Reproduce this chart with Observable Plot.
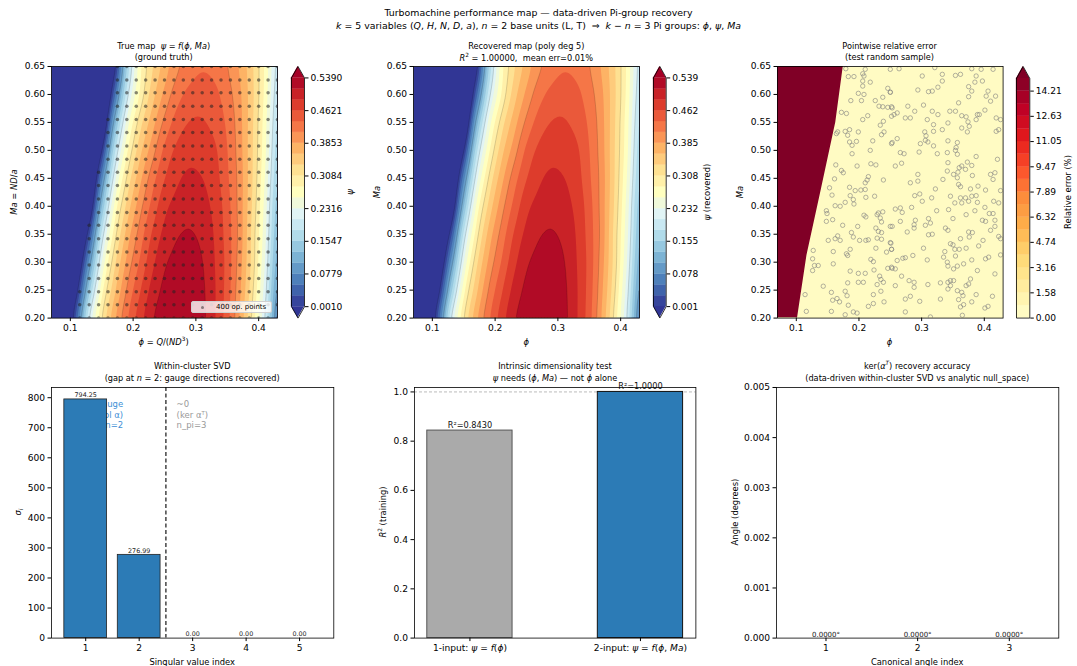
<!DOCTYPE html>
<html><head><meta charset="utf-8">
<script src="https://cdn.jsdelivr.net/npm/d3@7"></script>
<script src="https://cdn.jsdelivr.net/npm/@observablehq/plot@0.6"></script>
<style>
body{margin:0;background:#fff;}
#fig{position:relative;width:1077px;height:666px;overflow:hidden;font-family:"DejaVu Sans",sans-serif;color:#000;background:#fff;}
.t{position:absolute;white-space:nowrap;line-height:1.25;}
.t sub,.t sup{font-size:70%;line-height:0;}
#fig svg{position:absolute;overflow:visible;}
</style></head><body><div id="fig"></div>
<script>
// ---------------- DATA ----------------
const phiCols = [0.07,0.09,0.11,0.13,0.15,0.17,0.19,0.21,0.23,0.25,0.27,0.29,0.31,0.33,0.35,0.37,0.39,0.41,0.43];
const maRows  = [0.20,0.25,0.30,0.35,0.40,0.45,0.50,0.55,0.60,0.65];
// psi, one row per Ma value (values below 0.001 = dark-blue "under" region)
const psi_020 = [-0.20,-0.10,0.040,0.201,0.305,0.377,0.431,0.474,0.509,0.528,0.538,0.534,0.520,0.490,0.447,0.383,0.302,0.205,0.081];
const psi_025 = [-0.22,-0.12,-0.012,0.145,0.272,0.352,0.413,0.458,0.496,0.520,0.531,0.529,0.518,0.490,0.450,0.390,0.314,0.218,0.100];
const psi_030 = [-0.25,-0.15,-0.060,0.084,0.231,0.325,0.391,0.438,0.480,0.509,0.521,0.523,0.514,0.488,0.452,0.396,0.323,0.231,0.118];
const psi_035 = [-0.28,-0.19,-0.100,0.021,0.186,0.294,0.369,0.420,0.464,0.495,0.511,0.515,0.507,0.485,0.450,0.400,0.325,0.240,0.132];
const psi_040 = [-0.32,-0.23,-0.140,-0.045,0.127,0.260,0.341,0.399,0.444,0.480,0.497,0.505,0.497,0.480,0.447,0.399,0.331,0.247,0.144];
const psi_045 = [-0.36,-0.27,-0.180,-0.090,0.068,0.217,0.311,0.375,0.424,0.461,0.483,0.493,0.488,0.473,0.441,0.399,0.335,0.256,0.158];
const psi_050 = [-0.40,-0.31,-0.220,-0.130,-0.003,0.168,0.276,0.348,0.398,0.442,0.468,0.478,0.475,0.466,0.437,0.396,0.336,0.264,0.168];
const psi_055 = [-0.43,-0.35,-0.260,-0.170,-0.070,0.110,0.240,0.319,0.373,0.417,0.448,0.463,0.464,0.454,0.431,0.394,0.338,0.268,0.179];
const psi_060 = [-0.46,-0.38,-0.290,-0.200,-0.110,0.041,0.192,0.284,0.347,0.392,0.426,0.444,0.451,0.443,0.422,0.390,0.340,0.275,0.189];
const psi_065 = [-0.46,-0.37,-0.280,-0.190,-0.100,-0.012,0.155,0.270,0.330,0.372,0.406,0.425,0.434,0.429,0.412,0.382,0.338,0.278,0.197];
const psiRows = [psi_020,psi_025,psi_030,psi_035,psi_040,psi_045,psi_050,psi_055,psi_060,psi_065];

const psiTicks = [0.0010,0.0779,0.1547,0.2316,0.3084,0.3853,0.4621,0.5390];
const errTicks = [0.00,1.58,3.16,4.74,6.32,7.89,9.47,11.05,12.63,14.21];
const phiTicks = [0.1,0.2,0.3,0.4];
const maTicks  = [0.20,0.25,0.30,0.35,0.40,0.45,0.50,0.55,0.60,0.65];

// operating-point grid (400 valid points lie right of the psi>0 boundary)
const opPhi = [0.070,0.085,0.100,0.115,0.130,0.145,0.160,0.175,0.190,0.205,0.220,0.235,0.250,0.265,0.280,0.295,0.310,0.325,0.340,0.355,0.370,0.385,0.400,0.415,0.430];
const opMa  = [0.200,0.224,0.247,0.271,0.295,0.318,0.342,0.366,0.389,0.413,0.437,0.461,0.484,0.508,0.532,0.555,0.579,0.603,0.626,0.650];
const psiBoundary = [[0.20,0.105],[0.65,0.172]];   // [Ma, phi] where psi = 0

// high-error region boundary (right panel) [Ma, phi]
const errBoundary = [[0.20,0.102],[0.312,0.117],[0.43,0.140],[0.55,0.163],[0.65,0.175]];

// test random sample [phi, Ma]
const testPts = [
[0.179,0.646],[0.210,0.645],[0.206,0.637],[0.183,0.632],[0.192,0.632],[0.208,0.633],[0.206,0.624],[0.218,0.622],[0.206,0.615],[0.246,0.611],
[0.250,0.604],[0.199,0.602],[0.208,0.600],[0.187,0.589],[0.204,0.589],[0.226,0.589],[0.238,0.595],[0.232,0.579],[0.238,0.578],[0.246,0.577],
[0.252,0.578],[0.172,0.568],[0.180,0.566],[0.214,0.562],[0.206,0.555],[0.252,0.561],[0.239,0.552],[0.234,0.545],[0.166,0.533],[0.164,0.530],
[0.178,0.534],[0.185,0.537],[0.199,0.533],[0.182,0.527],[0.240,0.533],[0.236,0.528],[0.185,0.515],[0.196,0.516],[0.189,0.509],[0.222,0.517],
[0.252,0.512],[0.218,0.500],[0.189,0.494],[0.163,0.474],[0.197,0.472],[0.219,0.476],[0.227,0.474],[0.172,0.464],[0.175,0.460],[0.215,0.453],
[0.213,0.447],[0.210,0.442],[0.161,0.449],[0.239,0.447],[0.153,0.433],[0.185,0.434],[0.194,0.428],[0.203,0.429],[0.210,0.430],
[0.250,0.645],[0.264,0.646],[0.301,0.633],[0.321,0.648],[0.333,0.636],[0.354,0.634],[0.362,0.636],[0.380,0.646],[0.395,0.645],[0.414,0.645],
[0.387,0.633],[0.397,0.624],[0.385,0.622],[0.333,0.624],[0.326,0.613],[0.311,0.605],[0.317,0.606],[0.294,0.608],[0.375,0.614],[0.380,0.606],
[0.406,0.606],[0.403,0.597],[0.418,0.597],[0.410,0.588],[0.250,0.604],[0.375,0.596],[0.359,0.585],[0.303,0.581],[0.278,0.579],[0.289,0.570],
[0.253,0.576],[0.256,0.564],[0.261,0.567],[0.274,0.558],[0.282,0.558],[0.317,0.570],[0.326,0.564],[0.345,0.570],[0.354,0.570],[0.364,0.562],
[0.371,0.560],[0.389,0.564],[0.392,0.564],[0.401,0.572],[0.419,0.558],[0.426,0.555],[0.309,0.555],[0.319,0.546],[0.342,0.549],[0.374,0.551],
[0.376,0.543],[0.387,0.555],[0.364,0.540],[0.373,0.533],[0.419,0.534],[0.423,0.537],[0.333,0.537],[0.319,0.534],[0.305,0.533],[0.307,0.526],
[0.306,0.518],[0.310,0.515],[0.298,0.512],[0.253,0.514],[0.261,0.521],[0.319,0.508],[0.342,0.517],[0.357,0.514],[0.355,0.505],[0.354,0.500],
[0.266,0.496],[0.272,0.494],[0.296,0.497],[0.325,0.494],[0.341,0.496],[0.357,0.493],[0.387,0.489],[0.421,0.484],[0.258,0.472],[0.268,0.477],
[0.342,0.478],[0.360,0.469],[0.364,0.472],[0.373,0.479],[0.380,0.473],[0.370,0.466],[0.358,0.461],[0.351,0.457],[0.341,0.463],[0.357,0.451],
[0.381,0.455],[0.410,0.457],[0.417,0.460],[0.414,0.448],[0.294,0.457],[0.294,0.445],[0.334,0.448],[0.282,0.442],[0.322,0.431],[0.359,0.439],
[0.362,0.435],[0.378,0.431],[0.390,0.436],[0.402,0.429],
[0.157,0.420],[0.186,0.419],[0.211,0.416],[0.191,0.412],[0.192,0.404],[0.178,0.407],[0.225,0.418],[0.162,0.401],[0.170,0.400],[0.148,0.392],
[0.149,0.387],[0.148,0.373],[0.158,0.376],[0.208,0.384],[0.211,0.381],[0.229,0.385],[0.231,0.388],[0.238,0.390],[0.234,0.379],[0.236,0.372],
[0.174,0.366],[0.198,0.364],[0.227,0.361],[0.231,0.355],[0.236,0.353],[0.250,0.364],[0.188,0.353],[0.166,0.347],[0.162,0.342],[0.170,0.339],
[0.151,0.339],[0.191,0.345],[0.201,0.339],[0.211,0.339],[0.215,0.340],[0.229,0.343],[0.236,0.341],[0.251,0.334],[0.127,0.321],[0.159,0.319],
[0.180,0.315],[0.182,0.312],[0.186,0.323],[0.227,0.325],[0.244,0.318],[0.252,0.323],[0.126,0.306],[0.129,0.294],[0.126,0.285],[0.135,0.294],
[0.159,0.297],[0.219,0.305],[0.223,0.301],[0.246,0.289],[0.252,0.291],[0.186,0.284],[0.199,0.280],[0.210,0.280],[0.224,0.286],[0.233,0.275],
[0.235,0.269],[0.239,0.264],[0.229,0.260],[0.199,0.264],[0.207,0.264],[0.182,0.263],[0.143,0.257],[0.114,0.242],[0.156,0.246],[0.178,0.248],
[0.181,0.240],[0.223,0.242],[0.235,0.248],[0.158,0.232],[0.165,0.235],[0.169,0.229],[0.183,0.223],[0.215,0.221],[0.223,0.226],[0.240,0.229],
[0.116,0.212],[0.156,0.212],[0.178,0.206],[0.191,0.211],[0.197,0.209],
[0.289,0.419],[0.297,0.422],[0.346,0.418],[0.362,0.415],[0.370,0.415],[0.380,0.418],[0.387,0.419],[0.426,0.428],[0.301,0.409],[0.316,0.415],
[0.353,0.406],[0.364,0.406],[0.375,0.409],[0.389,0.407],[0.415,0.409],[0.423,0.406],[0.258,0.395],[0.266,0.397],[0.269,0.389],[0.284,0.398],
[0.324,0.392],[0.343,0.394],[0.371,0.385],[0.385,0.392],[0.401,0.398],[0.408,0.387],[0.414,0.387],[0.417,0.375],[0.402,0.373],[0.397,0.375],
[0.266,0.373],[0.290,0.375],[0.288,0.367],[0.311,0.378],[0.314,0.370],[0.306,0.366],[0.288,0.361],[0.277,0.354],[0.253,0.364],[0.311,0.349],
[0.317,0.350],[0.342,0.357],[0.338,0.361],[0.350,0.378],[0.375,0.354],[0.381,0.353],[0.376,0.345],[0.362,0.342],[0.398,0.339],[0.410,0.357],
[0.417,0.364],[0.423,0.346],[0.426,0.342],[0.250,0.335],[0.252,0.323],[0.303,0.325],[0.337,0.319],[0.346,0.333],[0.350,0.331],[0.353,0.323],
[0.360,0.323],[0.371,0.325],[0.391,0.329],[0.354,0.311],[0.335,0.309],[0.341,0.300],[0.342,0.293],[0.351,0.288],[0.357,0.293],[0.367,0.297],
[0.380,0.304],[0.402,0.306],[0.407,0.309],[0.426,0.313],[0.261,0.303],[0.270,0.307],[0.274,0.308],[0.286,0.312],[0.309,0.304],[0.253,0.289],
[0.258,0.288],[0.268,0.275],[0.280,0.267],[0.288,0.264],[0.288,0.255],[0.258,0.258],[0.310,0.260],[0.330,0.263],[0.342,0.264],[0.346,0.267],
[0.351,0.267],[0.346,0.258],[0.342,0.252],[0.357,0.249],[0.364,0.246],[0.366,0.240],[0.375,0.261],[0.378,0.270],[0.371,0.258],[0.389,0.285],
[0.417,0.279],[0.274,0.234],[0.282,0.239],[0.297,0.230],[0.330,0.234],[0.359,0.233],[0.362,0.220],[0.367,0.224],[0.387,0.242],[0.380,0.229],
[0.401,0.218],[0.406,0.221],[0.413,0.239],[0.274,0.211],[0.314,0.202],[0.365,0.205]
];

// bottom panels
const svIndex = [1,2,3,4,5];
const svValues = [794.25,276.99,0.00,0.00,0.00];
const svTicksY = [0,100,200,300,400,500,600,700,800];
const r2Models = ["1-input: ψ = f(ϕ)","2-input: ψ = f(ϕ, Ma)"];
const r2Values = [0.8430,1.0000];
const r2Ticks = [0.0,0.2,0.4,0.6,0.8,1.0];
const angIndex = [1,2,3];
const angValues = [0.0000,0.0000,0.0000];
const angTicks = [0.000,0.001,0.002,0.003,0.004,0.005];

// ---------------- COLOURS ----------------
const rdylbu = ["#313695","#4575b4","#74add1","#abd9e9","#e0f3f8","#ffffbf","#fee090","#fdae61","#f46d43","#d73027","#a50026"];
const ylorrd = ["#ffffcc","#ffeda0","#fed976","#feb24c","#fd8d3c","#fc4e2a","#e31a1c","#bd0026","#800026"];
const cmapPsi = d3.piecewise(d3.interpolateRgb, rdylbu);
const cmapErr = d3.piecewise(d3.interpolateRgb, ylorrd);
const psiLevels = d3.range(22).map(i => 0.001 + i * (0.539 - 0.001) / 21);
const psiBands = d3.range(21).map(i => cmapPsi((i + 0.5) / 21));
const psiUnder = cmapPsi(0), psiOver = cmapPsi(1);
const errLevels = d3.range(20).map(i => i * 15 / 19);
const errBands = d3.range(19).map(i => cmapErr((i + 0.5) / 19));
const errOver = cmapErr(1);
const lineLevels = psiLevels.filter((d, i) => i % 4 === 0);

// ---------------- HELPERS ----------------
const fig = document.getElementById("fig");
const FONT = "DejaVu Sans";
function place(fr, m, opts) {
  const W = fr.r - fr.l + m.l + m.r, H = fr.b - fr.t + m.t + m.b;
  const svg = Plot.plot({width: W, height: H, marginLeft: m.l, marginRight: m.r, marginTop: m.t, marginBottom: m.b,
    style: {fontFamily: FONT, fontSize: "9.1px", background: "transparent", overflow: "visible", color: "#000"}, ...opts});
  svg.style.position = "absolute";
  svg.style.left = (fr.l - m.l) + "px";
  svg.style.top = (fr.t - m.t) + "px";
  fig.appendChild(svg);
  return svg;
}
function txt(html, x, y, size, o = {}) {
  const d = document.createElement("div");
  d.className = "t"; d.innerHTML = html;
  d.style.left = x + "px"; d.style.top = y + "px"; d.style.fontSize = size + "px";
  if (o.color) d.style.color = o.color;
  const ax = o.anchor === "start" ? "0" : o.anchor === "end" ? "-100%" : "-50%";
  d.style.transform = `translate(${ax},-50%)` + (o.rot ? ` rotate(${o.rot}deg)` : "");
  fig.appendChild(d);
}
const axX = (ticks, fmt) => Plot.axisX({ticks, tickFormat: fmt, tickSize: 3.5, tickPadding: 3, label: null});
const axY = (ticks, fmt) => Plot.axisY({ticks, tickFormat: fmt, tickSize: 3.5, tickPadding: 3, label: null});
const frameLine = () => Plot.frame({stroke: "#000", strokeWidth: 0.8});

function colorbar(fr, levels, bands, under, over, ticks, fmt) {
  const lo = levels[0], hi = levels[levels.length - 1];
  const ext = 0.05 * (hi - lo);
  const y0 = under ? lo - ext : lo, y1 = hi + ext;
  const rects = bands.map((c, i) => ({a: levels[i], b: levels[i + 1], c}));
  const top = [{x: 0, y: hi}, {x: 0.5, y: hi + ext}, {x: 1, y: hi}];
  const bot = [{x: 0, y: lo}, {x: 0.5, y: lo - ext}, {x: 1, y: lo}];
  const outline = under
    ? [{x:0,y:hi},{x:0.5,y:hi+ext},{x:1,y:hi},{x:1,y:lo},{x:0.5,y:lo-ext},{x:0,y:lo},{x:0,y:hi}]
    : [{x:0,y:hi},{x:0.5,y:hi+ext},{x:1,y:hi},{x:1,y:lo},{x:0,y:lo},{x:0,y:hi}];
  const marks = [
    Plot.rect(rects, {x1: 0, x2: 1, y1: "a", y2: "b", fill: "c", stroke: "c", strokeWidth: 0.3}),
    Plot.areaY(top, {x: "x", y1: hi, y2: "y", fill: over}),
  ];
  if (under) marks.push(Plot.areaY(bot, {x: "x", y1: lo, y2: "y", fill: under}));
  marks.push(Plot.line(outline, {x: "x", y: "y", stroke: "#000", strokeWidth: 0.8}));
  marks.push(Plot.axisY({anchor: "right", ticks, tickFormat: d3.format(fmt), tickSize: 3.5, tickPadding: 2.5, label: null}));
  place(fr, {l: 2, r: 45, t: 2, b: 2}, {
    x: {domain: [0, 1], axis: null}, y: {domain: [y0, y1]}, color: {type: "identity"}, marks
  });
}

// ---------------- DERIVED ----------------
const dphi = phiCols[1] - phiCols[0], dma = maRows[1] - maRows[0];
const nx = phiCols.length, ny = maRows.length;
const clampI = (i, n) => Math.max(0, Math.min(n - 1, i));
const cr = (p0, p1, p2, p3, t) => p1 + 0.5 * t * (p2 - p0 + t * (2 * p0 - 5 * p1 + 4 * p2 - p3 + t * (3 * (p1 - p2) + p3 - p0)));
// smooth (Catmull-Rom) lookup in the read-off psi table
function psiAt(phi, ma) {
  const fx = (phi - phiCols[0]) / dphi, fy = (ma - maRows[0]) / dma;
  const ix = Math.max(0, Math.min(nx - 2, Math.floor(fx))), iy = Math.max(0, Math.min(ny - 2, Math.floor(fy)));
  const tx = fx - ix, ty = fy - iy;
  const row = j => { const r = psiRows[clampI(j, ny)]; return cr(r[clampI(ix - 1, nx)], r[ix], r[ix + 1], r[clampI(ix + 2, nx)], tx); };
  return cr(row(iy - 1), row(iy), row(iy + 1), row(iy + 2), ty);
}
const bnd = d3.scaleLinear(psiBoundary.map(d => d[0]), psiBoundary.map(d => d[1]));
const opPoints = [];
for (const ma of opMa) for (const phi of opPhi) if (phi > bnd(ma)) opPoints.push({phi, ma});
const testTable = testPts.map(([phi, ma]) => ({phi, ma}));
const errTable = errBoundary.map(([ma, phi]) => ({ma, phi}));
const psiColor = {type: "threshold", domain: psiLevels, range: [psiUnder, ...psiBands, psiOver]};
const extent = {x1: phiCols[0], x2: phiCols[nx - 1], y1: maRows[0], y2: maRows[ny - 1]};

const F1 = {l: 50.7, r: 276.7, t: 65.7, b: 317.3};
const F2 = {l: 413.3, r: 639.3, t: 65.7, b: 317.3};
const F3 = {l: 776.7, r: 1002.3, t: 65.7, b: 317.3};
const M = {l: 42, r: 8, t: 8, b: 22};

function mapMarks(withDots) {
  const m = [
    Plot.frame({fill: psiUnder}),
    Plot.contour({...extent, fill: psiAt, thresholds: psiLevels, pixelSize: 1.5, clip: true}),
    Plot.contour({...extent, value: psiAt, fill: "none", stroke: "#000", strokeOpacity: 0.3, strokeWidth: 0.5, thresholds: lineLevels, pixelSize: 1.5, clip: true}),
  ];
  if (withDots) m.push(Plot.dot(opPoints, {x: "phi", y: "ma", r: 1.75, fill: "#222", fillOpacity: 0.55, clip: true}));
  m.push(frameLine(), axX(phiTicks, d3.format(".1f")), axY(maTicks, d3.format(".2f")));
  return m;
}

// ---------------- TOP ROW ----------------
place(F1, M, {x: {domain: [0.07, 0.43]}, y: {domain: [0.2, 0.65]}, color: psiColor, marks: mapMarks(true)});
place(F2, M, {x: {domain: [0.07, 0.43]}, y: {domain: [0.2, 0.65]}, color: psiColor, marks: mapMarks(false)});
place(F3, M, {x: {domain: [0.07, 0.43]}, y: {domain: [0.2, 0.65]}, marks: [
  Plot.frame({fill: errBands[0]}),
  Plot.areaX(errTable, {y: "ma", x1: 0, x2: "phi", fill: errOver, clip: true}),
  Plot.dot(testTable, {x: "phi", y: "ma", r: 2.2, stroke: "#808080", strokeWidth: 0.6, fill: "none", clip: true}),
  frameLine(), axX(phiTicks, d3.format(".1f")), axY(maTicks, d3.format(".2f"))
]});
colorbar({l: 291, r: 304, t: 65.7, b: 317.3}, psiLevels, psiBands, psiUnder, psiOver, psiTicks, ".4f");
colorbar({l: 653.3, r: 666, t: 65.7, b: 317.3}, psiLevels, psiBands, psiUnder, psiOver, psiTicks, ".3f");
colorbar({l: 1016, r: 1029.3, t: 65.7, b: 317.3}, errLevels, errBands, null, errOver, errTicks, ".2f");

// legend box in panel 1
(() => {
  const d = document.createElement("div");
  d.style.cssText = "position:absolute;left:191px;top:300.5px;width:81px;height:12.5px;background:rgba(255,255,255,0.8);border:0.8px solid #d0d0d0;border-radius:2px;box-sizing:border-box;";
  d.innerHTML = '<span style="position:absolute;left:9px;top:4.3px;width:3.4px;height:3.4px;border-radius:50%;background:rgba(34,34,34,0.5)"></span><span style="position:absolute;left:24px;top:1.8px;font-size:7px;font-family:DejaVu Sans;white-space:nowrap">400 op. points</span>';
  fig.appendChild(d);
})();

// ---------------- BOTTOM ROW ----------------
const F4 = {l: 51, r: 333.3, t: 386.7, b: 637.3};
const F5 = {l: 414.3, r: 695.7, t: 386.7, b: 637.3};
const F6 = {l: 776, r: 1058.3, t: 386.7, b: 637.3};
const svTable = svIndex.map((i, k) => ({i, v: svValues[k]}));
place(F4, M, {x: {domain: [0.36, 5.64]}, y: {domain: [0, svValues[0] * 1.05]}, marks: [
  Plot.text([{x: 1.7, y: svValues[0], s: "gauge\n(col α)\nn=2"}], {x: "x", y: "y", text: "s", textAnchor: "end", lineAnchor: "top", fill: "#3d8fd6", fontSize: 8.5, lineHeight: 1.25}),
  Plot.text([{x: 2.7, y: svValues[0], s: "~0\n(ker αᵀ)\nn_pi=3"}], {x: "x", y: "y", text: "s", textAnchor: "start", lineAnchor: "top", fill: "#999", fontSize: 8.5, lineHeight: 1.25}),
  Plot.rectY(svTable, {x1: d => d.i - 0.4, x2: d => d.i + 0.4, y1: 0, y2: "v", fill: "#2c7bb6", stroke: "#222", strokeWidth: 0.8}),
  Plot.ruleX([2.5], {stroke: "#000", strokeWidth: 1.1, strokeDasharray: "4,2.5"}),
  Plot.text(svTable, {x: "i", y: "v", text: d => d.v.toFixed(2), lineAnchor: "bottom", dy: -2, fontSize: 6.4, fill: "#222"}),
  frameLine(), axX(svIndex, d3.format("d")), axY(svTicksY, d3.format("d"))
]});

const r2Table = r2Values.map((v, k) => ({k, v, name: r2Models[k], c: k === 0 ? "#aaaaaa" : "#2c7bb6", e: k === 0 ? "#555" : "#111"}));
const s5 = place(F5, M, {x: {domain: [-0.325, 1.325]}, y: {domain: [0, 1.018]}, marks: [
  Plot.ruleY([1.0], {stroke: "#aaa", strokeWidth: 0.8, strokeDasharray: "3,2"}),
  Plot.rectY(r2Table, {x1: d => d.k - 0.25, x2: d => d.k + 0.25, y1: 0, y2: "v", fill: "c", stroke: "e", strokeWidth: 1}),
  Plot.text(r2Table, {x: "k", y: "v", text: d => "R²=" + d.v.toFixed(4), lineAnchor: "bottom", dy: -2.5, fontSize: 8.2, fill: "#111"}),
  frameLine(), axX([0, 1], k => r2Models[k]), axY(r2Ticks, d3.format(".1f"))
], color: {type: "identity"}});

const angTable = angIndex.map((i, k) => ({i, v: angValues[k]}));
place(F6, M, {x: {domain: [0.46, 3.54]}, y: {domain: [0, 0.005]}, marks: [
  Plot.rectY(angTable, {x1: d => d.i - 0.4, x2: d => d.i + 0.4, y1: 0, y2: "v", fill: "#2c7bb6", stroke: "#222", strokeWidth: 0.8}),
  Plot.text(angTable, {x: "i", y: "v", text: d => d.v.toFixed(4) + "°", lineAnchor: "bottom", dy: -1.5, fontSize: 7, fill: "#222"}),
  frameLine(), axX(angIndex, d3.format("d")), axY(angTicks, d3.format(".3f"))
]});

// italic math in the panel-5 tick labels
s5.querySelectorAll('g[aria-label="x-axis tick label"] text').forEach(t => {
  const s = t.textContent;
  const parts = s.split(/(ψ|ϕ|Ma|f)/);
  t.textContent = "";
  parts.forEach(p => {
    if (!p) return;
    const ts = document.createElementNS("http://www.w3.org/2000/svg", "tspan");
    ts.textContent = p;
    if (/^(ψ|ϕ|Ma|f)$/.test(p)) ts.setAttribute("font-style", "italic");
    t.appendChild(ts);
  });
});

// ---------------- TEXT ----------------
txt("Turbomachine performance map — data-driven Pi-group recovery", 538.5, 12.7, 9.4);
txt("<i>k</i> = 5 variables (<i>Q</i>, <i>H</i>, <i>N</i>, <i>D</i>, <i>a</i>), <i>n</i> = 2 base units (L, T) &nbsp;⇒&nbsp; <i>k</i> − <i>n</i> = 3 Pi groups: <i>ϕ</i>, <i>ψ</i>, <i>Ma</i>", 538.5, 26, 9.4);

txt("True map &nbsp;<i>ψ</i> = <i>f</i>(<i>ϕ</i>, <i>Ma</i>)", 163.7, 46, 8.2);
txt("(ground truth)", 163.7, 57, 8.2);
txt("Recovered map (poly deg 5)", 526.3, 46, 8.2);
txt("<i>R</i><sup>2</sup> = 1.00000, &nbsp;mean err=0.01%", 526.3, 57.5, 8.2);
txt("Pointwise relative error", 889.5, 46, 8.2);
txt("(test random sample)", 889.5, 57, 8.2);

txt("<i>ϕ</i> = <i>Q</i>/(<i>ND</i><sup>3</sup>)", 163.7, 341.5, 8.4);
txt("<i>ϕ</i>", 526.3, 341.5, 8.4);
txt("<i>ϕ</i>", 889.5, 341.5, 8.4);
txt("<i>Ma</i> = <i>ND</i>/<i>a</i>", 14, 191.5, 8.4, {rot: -90});
txt("<i>Ma</i>", 376.7, 191.5, 8.4, {rot: -90});
txt("<i>Ma</i>", 740, 191.5, 8.4, {rot: -90});
txt("<i>ψ</i>", 350, 191.5, 8.4, {rot: -90});
txt("<i>ψ</i> (recovered)", 706.7, 191.5, 8.4, {rot: -90});
txt("Relative error (%)", 1068, 191.5, 8.4, {rot: -90});

txt("Within-cluster SVD", 192.2, 366, 8.2);
txt("(gap at <i>n</i> = 2: gauge directions recovered)", 192.2, 377.5, 8.2);
txt("Intrinsic dimensionality test", 555, 366, 8.2);
txt("<i>ψ</i> needs (<i>ϕ</i>, <i>Ma</i>) — not <i>ϕ</i> alone", 555, 377.5, 8.2);
txt("ker(<i>α</i><sup><i>T</i></sup>) recovery accuracy", 917.2, 366, 8.2);
txt("(data-driven within-cluster SVD vs analytic null_space)", 917.2, 377.5, 8.2);

txt("Singular value index", 192.2, 661.5, 8.4);
txt("Canonical angle index", 917.2, 661.5, 8.4);
txt("<i>σ</i><sub><i>i</i></sub>", 18, 512, 8.4, {rot: -90});
txt("<i>R</i><sup>2</sup> (training)", 383.3, 512, 8.4, {rot: -90});
txt("Angle (degrees)", 735, 512, 8.4, {rot: -90});
</script></body></html>
